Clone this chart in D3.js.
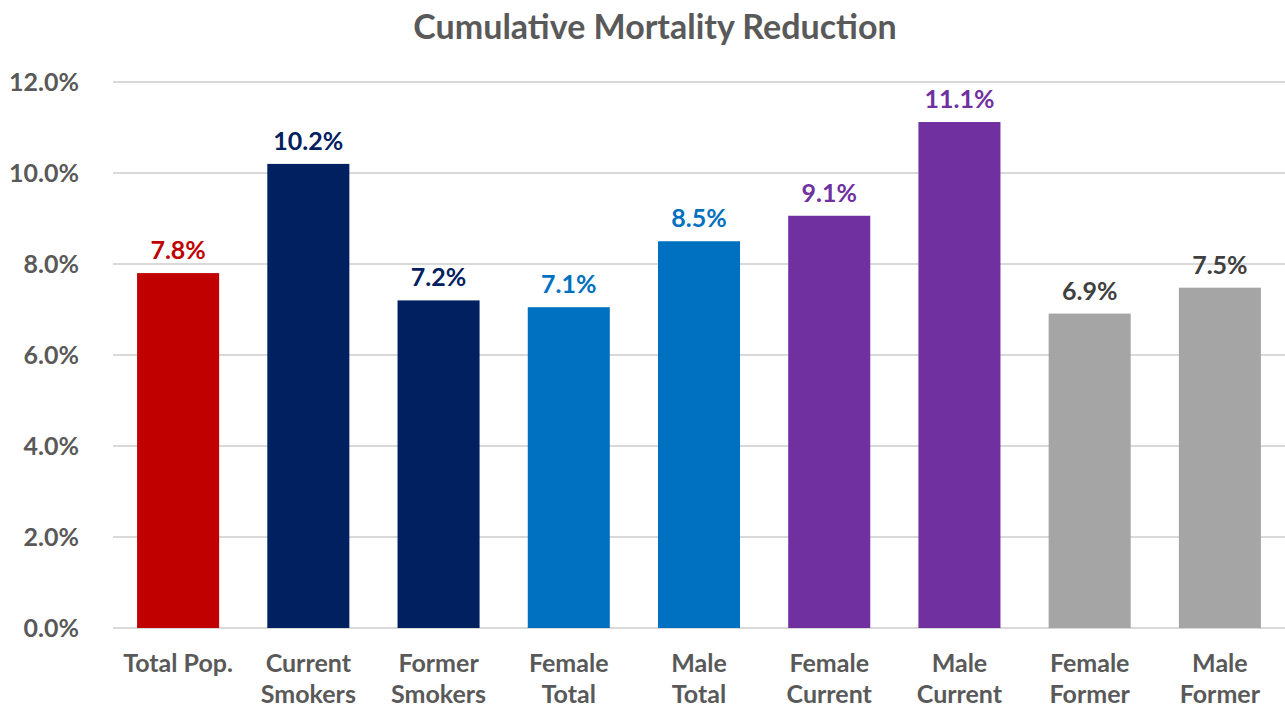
<!DOCTYPE html>
<html>
<head>
<meta charset="utf-8">
<script src="https://cdn.jsdelivr.net/npm/d3@7"></script>
<style>
  body { margin: 0; background: #fff; }
  svg { display: block; font-family: Lato, "Open Sans", sans-serif; }
</style>
</head>
<body>
<svg id="chart" width="1285" height="711"></svg>
<script>
// chart data
const categories = [
  ['Total Pop.'], ['Current', 'Smokers'], ['Former', 'Smokers'],
  ['Female', 'Total'], ['Male', 'Total'], ['Female', 'Current'],
  ['Male', 'Current'], ['Female', 'Former'], ['Male', 'Former']
];
const values = [7.8, 10.2, 7.2, 7.05, 8.5, 9.06, 11.12, 6.91, 7.48];
const labels = ['7.8%', '10.2%', '7.2%', '7.1%', '8.5%', '9.1%', '11.1%', '6.9%', '7.5%'];
const barColors = ['#C00000', '#002060', '#002060', '#0070C0', '#0070C0', '#7030A0', '#7030A0', '#A5A5A5', '#A5A5A5'];
const labelColors = ['#C00000', '#002060', '#002060', '#0070C0', '#0070C0', '#7030A0', '#7030A0', '#404040', '#404040'];
const yTicks = [0, 2, 4, 6, 8, 10, 12];

const width = 1285, height = 711;
const margin = { top: 82, right: 0, bottom: 83, left: 113 };

const svg = d3.select('#chart');

const x = d3.scaleBand()
  .domain(d3.range(categories.length))
  .range([margin.left, width - margin.right])
  .paddingInner(0.37)
  .paddingOuter(0.185);

const y = d3.scaleLinear()
  .domain([0, 12])
  .range([height - margin.bottom, margin.top]);

// title
svg.append('text')
  .attr('x', 655)
  .attr('y', 39)
  .attr('text-anchor', 'middle')
  .style('font-size', '34px')
  .style('font-weight', 'bold')
  .style('fill', '#595959')
  .text('Cumulative Mortality Reduction');

// gridlines
svg.append('g')
  .selectAll('line')
  .data(yTicks)
  .join('line')
  .attr('x1', margin.left)
  .attr('x2', width - margin.right)
  .attr('y1', d => y(d))
  .attr('y2', d => y(d))
  .style('stroke', '#d9d9d9')
  .style('stroke-width', 2);

// y axis labels
const yAxis = svg.append('g')
  .attr('transform', `translate(${margin.left},0)`)
  .call(d3.axisLeft(y).tickValues(yTicks).tickFormat(d => d.toFixed(1) + '%').tickSize(0).tickPadding(34));
yAxis.select('.domain').remove();
yAxis.selectAll('text')
  .style('font-family', 'Lato, sans-serif')
  .style('font-size', '25px')
  .style('font-weight', 'bold')
  .style('fill', '#595959');

// bars
svg.append('g')
  .selectAll('rect')
  .data(values)
  .join('rect')
  .attr('x', (d, i) => x(i))
  .attr('y', d => y(d))
  .attr('width', x.bandwidth())
  .attr('height', d => y(0) - y(d))
  .style('fill', (d, i) => barColors[i]);

// value labels
svg.append('g')
  .selectAll('text')
  .data(values)
  .join('text')
  .attr('x', (d, i) => x(i) + x.bandwidth() / 2)
  .attr('y', d => y(d) - 14)
  .attr('text-anchor', 'middle')
  .style('font-size', '25px')
  .style('font-weight', 'bold')
  .style('fill', (d, i) => labelColors[i])
  .text((d, i) => labels[i]);

// category labels
const cat = svg.append('g')
  .selectAll('text')
  .data(categories)
  .join('text')
  .attr('x', (d, i) => x(i) + x.bandwidth() / 2)
  .attr('y', 672)
  .attr('text-anchor', 'middle')
  .style('font-size', '25px')
  .style('font-weight', 'bold')
  .style('fill', '#595959');
cat.selectAll('tspan')
  .data(d => d)
  .join('tspan')
  .attr('x', function () { return this.parentNode.getAttribute('x'); })
  .attr('dy', (d, i) => i === 0 ? 0 : 31)
  .text(d => d);
</script>
</body>
</html>
